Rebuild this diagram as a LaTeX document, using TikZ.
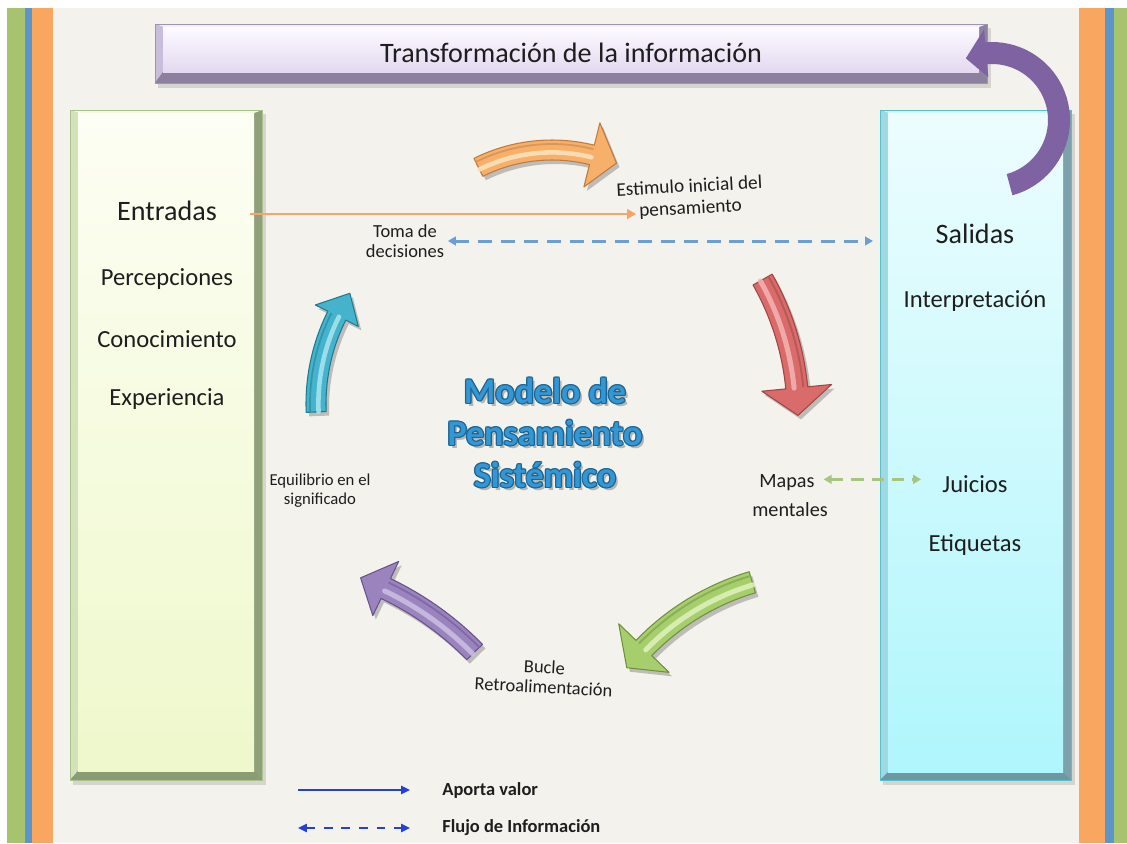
\documentclass[tikz,border=0pt]{standalone}
\usepackage{fontspec}
\setmainfont{Carlito}
\usetikzlibrary{arrows.meta}
\definecolor{bgc}{HTML}{F4F2EC}
\definecolor{barG}{HTML}{A7C36F}
\definecolor{barB}{HTML}{5B96CA}
\definecolor{barO}{HTML}{F8A660}
\definecolor{txtc}{HTML}{1E1E1E}
\definecolor{mtblue}{HTML}{3497D3}
\definecolor{mtdark}{HTML}{1A6595}
\definecolor{orline}{HTML}{F5A56A}
\definecolor{bldash}{HTML}{6A9FD5}
\definecolor{grdash}{HTML}{A8C580}
\definecolor{legblue}{HTML}{2340DC}
\definecolor{bigpurple}{HTML}{7E62A1}
\definecolor{arrbase}{HTML}{F6B06A}
\definecolor{arrdark}{HTML}{C07A3E}
\definecolor{arrlight}{HTML}{FDE3BF}
\definecolor{bvft}{HTML}{FCFAFF}
\definecolor{bvfb}{HTML}{E4D9F1}
\definecolor{bvt}{HTML}{F3EEF9}
\definecolor{bvl}{HTML}{C8BDDA}
\definecolor{bvr}{HTML}{8E82A2}
\definecolor{bvb}{HTML}{8C7F9F}
\definecolor{bvbd}{HTML}{9F93B5}

% bevelled box: x1 y1 x2 y2 left top right bottom
\newcommand\bevbox[8]{%
 \fill[black,opacity=0.12] (#1+3,#2+4) rectangle (#3+4,#4+5);
 \fill[bvr] (#1,#2) rectangle (#3,#4);
 \fill[bvt] (#1,#2) -- (#3,#2) -- (#3-#7,#2+#6) -- (#1+#5,#2+#6) -- cycle;
 \fill[bvl] (#1,#2) -- (#1+#5,#2+#6) -- (#1+#5,#4-#8) -- (#1,#4) -- cycle;
 \fill[bvb] (#1,#4) -- (#1+#5,#4-#8) -- (#3-#7,#4-#8) -- (#3,#4) -- cycle;
 \shade[top color=bvft,bottom color=bvfb] (#1+#5,#2+#6) rectangle (#3-#7,#4-#8);
 \draw[bvbd,line width=0.5pt] (#1,#2) rectangle (#3,#4);
}

% curved block arrow: cx cy R a1(tail) a2(head base) w hw tip-angle
\newcommand\barr[8]{%
 \filldraw[fill=arrbase,draw=arrdark,line width=0.6pt,line join=round,
   preaction={fill=black,opacity=0.22,transform canvas={shift={(3,4)}}}]
  plot[variable=\t,domain=#4:#5,samples=30] ({#1+(#3-#6/2)*cos(\t)},{#2+(#3-#6/2)*sin(\t)})
  -- ({#1+(#3-#7)*cos(#5)},{#2+(#3-#7)*sin(#5)})
  -- ({#1+#3*cos(#8)},{#2+#3*sin(#8)})
  -- ({#1+(#3+#7)*cos(#5)},{#2+(#3+#7)*sin(#5)})
  -- plot[variable=\t,domain=#5:#4,samples=30] ({#1+(#3+#6/2)*cos(\t)},{#2+(#3+#6/2)*sin(\t)})
  -- cycle;
 \draw[arrlight,line width=0.13pt*#6,line cap=round,opacity=0.85]
  plot[variable=\t,domain=#4:#5,samples=30] ({#1+(#3-#6*0.12)*cos(\t)},{#2+(#3-#6*0.12)*sin(\t)});
 \draw[arrdark!50!arrbase,line width=0.05pt*#6]
  plot[variable=\t,domain=#4:#5,samples=30] ({#1+(#3+#6*0.3)*cos(\t)},{#2+(#3+#6*0.3)*sin(\t)});
}
\newcommand\barrflat[8]{%
 \fill[bigpurple]
  plot[variable=\t,domain=#4:#5,samples=40] ({#1+(#3-#6/2)*cos(\t)},{#2+(#3-#6/2)*sin(\t)})
  -- ({#1+(#3-#7)*cos(#5)},{#2+(#3-#7)*sin(#5)})
  -- ({#1+#3*cos(#8)},{#2+#3*sin(#8)})
  -- ({#1+(#3+#7)*cos(#5)},{#2+(#3+#7)*sin(#5)})
  -- plot[variable=\t,domain=#5:#4,samples=40] ({#1+(#3+#6/2)*cos(\t)},{#2+(#3+#6/2)*sin(\t)})
  -- cycle;
}

\begin{document}
\begin{tikzpicture}[x=0.02cm,y=-0.02cm,
  txt/.style={text=txtc,inner sep=2pt,text height=0.64em,text depth=0pt},
  bigtxt/.style={txt,font=\fontsize{16}{19}\selectfont},
  midtxt/.style={txt,font=\fontsize{14}{17}\selectfont},
  small/.style={text=txtc,inner sep=2pt,align=center},
  mtitle/.style={font=\bfseries\fontsize{20.5}{24}\selectfont,align=center,inner sep=0pt},
  legtxt/.style={text=txtc,font=\bfseries\fontsize{10.5}{12}\selectfont,anchor=west,inner sep=0pt},
  tipT/.style={-{Triangle[length=5pt,width=5.5pt]}},
  tipTT/.style={{Triangle[length=4.5pt,width=5pt]}-{Triangle[length=4.5pt,width=5pt]}}]

\useasboundingbox (0,0) rectangle (1127,843);
% background and side bars
\fill[white] (0,0) rectangle (1127,843);
\fill[bgc] (53,8) rectangle (1079,843);
\fill[barG] (7,8) rectangle (25,843);
\fill[barB] (25,8) rectangle (32,843);
\fill[barO] (32,8) rectangle (53,843);
\fill[barO] (1079,8) rectangle (1105,843);
\fill[barB] (1105,8) rectangle (1114,843);
\fill[barG] (1114,8) rectangle (1127,843);

% boxes
\bevbox{155}{24}{987}{83}{8}{3}{8}{11}
\coordinate (titNW) at (155,24); \coordinate (titSE) at (987,83);

\definecolor{bvft}{HTML}{FDFEF4}\definecolor{bvfb}{HTML}{EEF8CB}\definecolor{bvt}{HTML}{F4F9E6}
\definecolor{bvl}{HTML}{D2E3B9}\definecolor{bvr}{HTML}{8FA07A}\definecolor{bvb}{HTML}{8A9C73}\definecolor{bvbd}{HTML}{A9C38B}
\bevbox{70}{110}{262}{780}{8}{3}{8}{9}
\coordinate (entNW) at (70,110); \coordinate (entSE) at (262,780);

\definecolor{bvft}{HTML}{EDFDFE}\definecolor{bvfb}{HTML}{AFF6FC}\definecolor{bvt}{HTML}{D6F5F8}
\definecolor{bvl}{HTML}{9ED9E4}\definecolor{bvr}{HTML}{7BA2AC}\definecolor{bvb}{HTML}{6D98A3}\definecolor{bvbd}{HTML}{55C1CA}
\bevbox{880}{110}{1071}{780}{8}{3}{8}{8}
\coordinate (salNW) at (880,110); \coordinate (salSE) at (1071,780);

% texts in boxes
\node[txt,font=\fontsize{16}{19}\selectfont] (title) at (571,57) {Transformación de la información};
\node[bigtxt] (entr) at (167,215) {Entradas};
\node[midtxt] (perc) at (167,280) {Percepciones};
\node[midtxt] (cono) at (167,342) {Conocimiento};
\node[midtxt] (expe) at (167,400) {Experiencia};
\node[bigtxt] (sal) at (975,238) {Salidas};
\node[midtxt] (inter) at (975,302) {Interpretación};
\node[midtxt] (juic) at (975,487) {Juicios};
\node[midtxt] (etiq) at (975,546) {Etiquetas};

% small labels
\node[small,font=\fontsize{10.5}{11.5}\selectfont] (toma) at (405,241) {Toma de\\decisiones};
\node[small,font=\fontsize{11}{12.5}\selectfont,rotate=3] (estim) at (690,198) {Estimulo inicial del\\pensamiento};
\node[small,font=\fontsize{9.5}{10.8}\selectfont] (equi) at (320,491) {Equilibrio en el\\significado};
\node[txt,font=\fontsize{11.5}{13}\selectfont] (mapas) at (787,482) {Mapas};
\node[txt,font=\fontsize{11.5}{13}\selectfont] (ment) at (790,511) {mentales};
\node[small,font=\fontsize{10.5}{11.2}\selectfont,rotate=-3] (bucle) at (544,677) {Bucle\\Retroalimentación};

% connectors
\coordinate (oS) at (250,214);
\coordinate (oE) at (636,214);
\draw[orline,line width=1.4pt,tipT] (oS) -- (oE);
\draw[bldash,line width=1.7pt,dash pattern=on 8pt off 5pt,tipTT,shorten >=4pt] (toma.east) -- (toma.east -| salNW);
\draw[grdash,line width=1.7pt,dash pattern=on 7pt off 4.5pt,tipTT,shorten <=3pt,shorten >=10pt] ([yshift=1.5pt]mapas.east) -- ([yshift=1.5pt]mapas.east -| juic.west);

% cycle arrows
\barr{552}{315}{165}{243.5}{284}{20}{33}{293}
\definecolor{arrbase}{HTML}{D96B6B}\definecolor{arrdark}{HTML}{A04444}\definecolor{arrlight}{HTML}{F4B5B5}
\barr{525}{414}{273}{-29.5}{-5.5}{22}{35}{0.3}
\definecolor{arrbase}{HTML}{A7CE6C}\definecolor{arrdark}{HTML}{6F913C}\definecolor{arrlight}{HTML}{E0F2BE}
\barr{823}{821}{249}{253.5}{224}{22}{35}{218}
\definecolor{arrbase}{HTML}{9B84BE}\definecolor{arrdark}{HTML}{67528F}\definecolor{arrlight}{HTML}{CDBFE3}
\barr{251}{871}{313}{-44.4}{-64.5}{22}{30}{-69.5}
\definecolor{arrbase}{HTML}{45B3CC}\definecolor{arrdark}{HTML}{1F7A8F}\definecolor{arrlight}{HTML}{A9E5F1}
\barr{514}{404}{198}{177.7}{206.5}{20}{24}{214}

% big purple arrow
\barrflat{992}{120}{67}{74.8}{-95}{22}{24}{-113}

% central title with outline
\node[mtitle,text=black,opacity=0.25,xshift=1.6pt,yshift=-1.6pt] (mts) at (545,433) {Modelo de\\Pensamiento\\Sistémico};
\foreach \dx/\dy [count=\i] in {0.7/0,-0.7/0,0/0.7,0/-0.7,0.5/0.5,-0.5/0.5,0.5/-0.5,-0.5/-0.5}
  \node[mtitle,text=mtdark,xshift=\dx pt,yshift=\dy pt] (mto\i) at (545,433) {Modelo de\\Pensamiento\\Sistémico};
\node[mtitle,text=mtblue] (mt) at (545,433) {Modelo de\\Pensamiento\\Sistémico};

% legend
\coordinate (lg1a) at (298,790); \coordinate (lg1b) at (410,790);
\coordinate (lg2a) at (298,828); \coordinate (lg2b) at (410,828);
\draw[legblue,line width=1.2pt,-{Triangle[length=5pt,width=4.5pt]}] (lg1a) -- (lg1b);
\draw[legblue,line width=1.2pt,dash pattern=on 5pt off 5pt,{Triangle[length=5pt,width=4.5pt]}-{Triangle[length=5pt,width=4.5pt]}] (lg2a) -- (lg2b);
\node[legtxt] (lgt1) at (442,790) {Aporta valor};
\node[legtxt] (lgt2) at (442,828) {Flujo de Información};
\end{tikzpicture}
\end{document}
